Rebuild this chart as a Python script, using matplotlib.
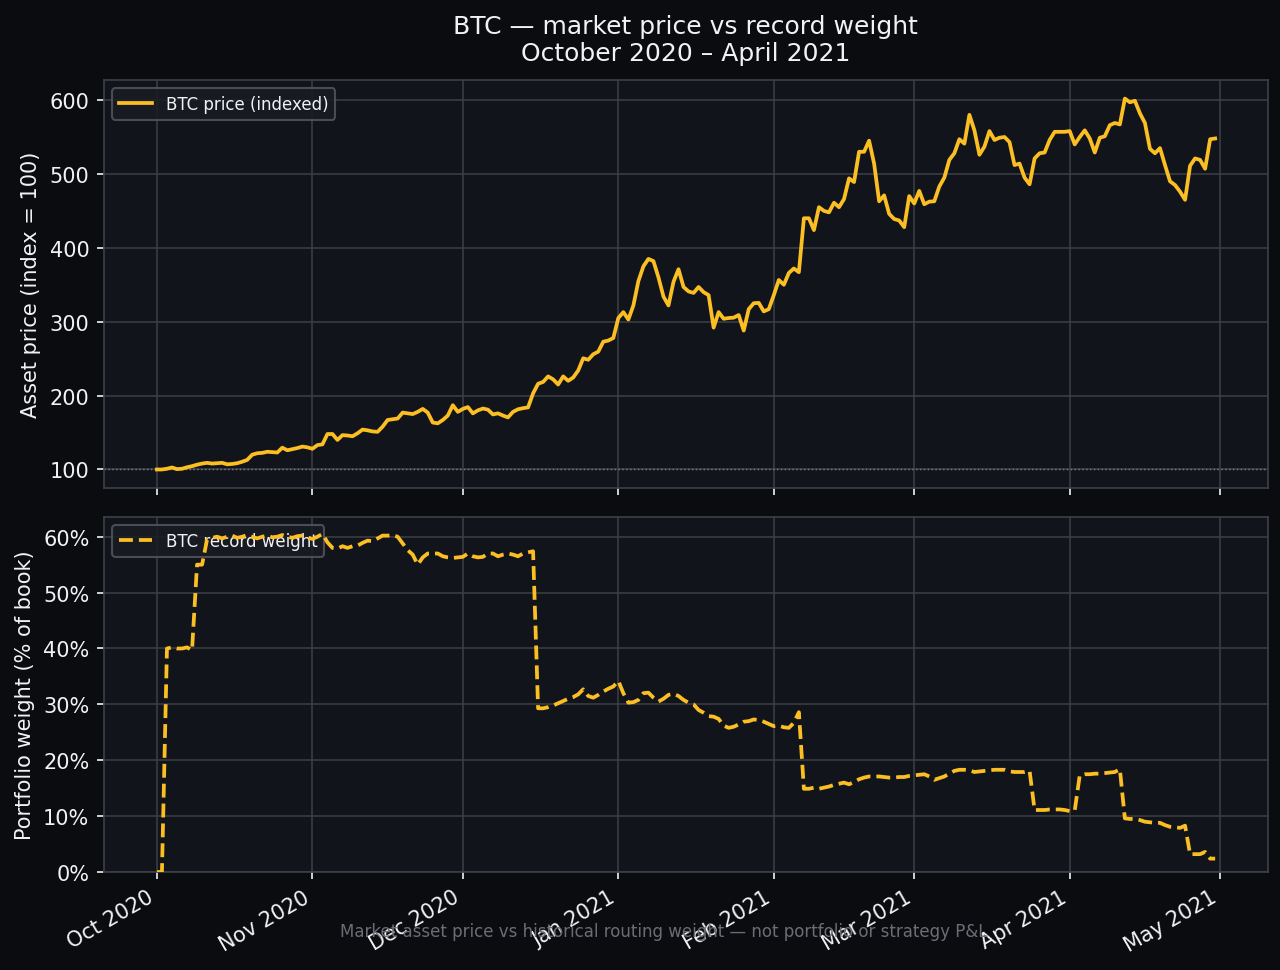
import numpy as np
import pandas as pd
import matplotlib
matplotlib.use("Agg")
import matplotlib.pyplot as plt
import matplotlib.dates as mdates
from matplotlib.ticker import PercentFormatter, MultipleLocator

# ---------------- data ----------------
start_date = "2020-10-01"

price_index = [
    100, 100, 101, 102.7, 100.5, 101, 103, 104.5, 106.5, 108,
    109, 108, 108.5, 109, 107, 107.5, 108.5, 110.5, 113, 120,
    122, 122.5, 124, 123.5, 123, 129.5, 126, 127.5, 129, 131,
    130, 128, 133, 134, 148, 148, 140, 146.5, 146, 145,
    149, 154, 153, 151.5, 151, 158, 167, 168, 169, 177,
    176, 175, 178, 182, 177, 163.5, 162.5, 167, 173, 187,
    178, 182, 184.5, 176, 180, 182.5, 181, 174.5, 176, 173,
    170.5, 178, 181.5, 183, 184, 203, 216, 218.5, 226, 222,
    215, 226, 220, 224.5, 234, 250.5, 248.5, 256, 259.5, 273,
    274.5, 278, 305, 313, 303, 322, 355, 375, 385, 382,
    360, 334, 322, 354, 371, 347, 341, 339, 347, 340,
    336, 292, 313, 304, 305, 305.5, 309, 288, 317, 325,
    325.5, 314, 317, 336, 356.5, 350, 366, 372, 367, 440,
    440, 424, 455, 450, 448, 461, 455, 466, 494, 489,
    530, 530, 545, 514, 463, 471, 446, 439, 437, 428,
    470, 460, 477, 459, 462.5, 463, 483, 495, 519, 528,
    547, 541, 580, 559, 526, 537, 558, 546, 549, 550,
    543, 512, 514, 495, 486, 521, 528, 529, 546, 557,
    557, 557, 558, 540, 550, 559, 548, 529, 549, 551,
    566, 569, 567, 602, 597, 599, 582, 569, 534, 528,
    535, 512, 490, 485, 476, 465, 511, 521, 519, 507,
    547, 548,
]

record_weight_pct = [
    0, 0, 40, 40.2, 40, 40, 40.2, 39.7, 55, 55,
    59.5, 59.8, 60, 59.7, 60, 60.2, 59.8, 60, 60.3, 60,
    59.7, 60, 60.2, 59.9, 60, 60.3, 60, 59.8, 60.1, 60.2,
    59.9, 59.6, 60, 60.5, 59, 58, 57.9, 58.3, 58, 58.3,
    58.4, 58.9, 59.3, 59.2, 59.7, 60.2, 60.2, 60.3, 60, 58.8,
    57.6, 56.8, 55, 56.3, 57, 57, 57, 56.5, 56.3, 56.2,
    56.3, 56.4, 57, 56.5, 56.3, 56.4, 57, 57, 56.5, 56.8,
    57, 56.8, 56.5, 57, 57.2, 57.4, 29.3, 29.3, 29.5, 29.8,
    30.2, 30.6, 31, 31.3, 31.8, 32.7, 31.5, 31.2, 31.7, 32.3,
    32.8, 33.2, 34.2, 32, 30.3, 30.4, 30.8, 32, 32.1, 31.2,
    30.5, 31, 31.7, 31.9, 31.5, 30.8, 30.3, 30, 29, 28.5,
    27.9, 27.8, 27.4, 26.2, 25.8, 26, 26.4, 26.9, 27, 27.3,
    27.2, 26.9, 26.5, 26.1, 26.2, 25.9, 25.8, 26.7, 28.6, 14.9,
    14.9, 15.1, 14.9, 15.1, 15.3, 15.6, 15.8, 16, 15.7, 16.1,
    16.6, 16.9, 17.1, 17.1, 17.1, 17, 16.9, 16.9, 17, 17,
    17.2, 17.3, 17.4, 17.5, 17.1, 16.5, 16.8, 17.1, 17.6, 18.1,
    18.3, 18.3, 18.2, 17.9, 18, 18.1, 18.2, 18.3, 18.3, 18.3,
    18, 17.9, 17.9, 17.9, 18.1, 11.1, 11.1, 11.1, 11.2, 11.2,
    11.2, 11.1, 10.9, 11.0, 17.3, 17.5, 17.5, 17.6, 17.6, 17.7,
    17.8, 17.9, 18.4, 9.6, 9.5, 9.5, 9.3, 9.0, 8.9, 8.8,
    8.8, 8.4, 8.1, 8.0, 7.9, 8.3, 3.2, 3.2, 3.2, 3.6,
    2.4, 2.4,
]

title_text = "BTC \u2014 market price vs record weight\nOctober 2020 \u2013 April 2021"
footer_text = "Market asset price vs historical routing weight \u2014 not portfolio or strategy P&L"
price_label = "BTC price (indexed)"
weight_label = "BTC record weight"
price_ylabel = "Asset price (index = 100)"
weight_ylabel = "Portfolio weight (% of book)"

dates = pd.date_range(start_date, periods=len(price_index), freq="D")

# ---------------- style ----------------
FIG_BG = "#0b0c10"
AX_BG = "#12141b"
LINE = "#fbbf24"
TXT = "#f2f2f4"
GRID = "#3c3e46"
SPINE = "#3e4048"

plt.rcParams["font.family"] = ["DejaVu Sans"]

fig = plt.figure(figsize=(8.54, 6.473), dpi=150, facecolor=FIG_BG)
gs = fig.add_gridspec(2, 1, height_ratios=[408, 355], hspace=0.076,
                      left=0.0812, right=0.9899, top=0.9166, bottom=0.1009)
ax1 = fig.add_subplot(gs[0])
ax2 = fig.add_subplot(gs[1], sharex=ax1)

for ax in (ax1, ax2):
    ax.set_facecolor(AX_BG)
    ax.grid(True, color=GRID, linewidth=0.8, alpha=0.95)
    ax.set_axisbelow(True)
    for s in ax.spines.values():
        s.set_color(SPINE)
        s.set_linewidth(0.8)
    ax.tick_params(colors=TXT, labelsize=10, length=3.5, width=0.8)

ax1.axhline(100, color="#8a8c94", linewidth=0.7, linestyle=":", alpha=0.8, zorder=1)
ax1.plot(dates, price_index, color=LINE, linewidth=1.8, label=price_label, zorder=3)
ax1.set_ylabel(price_ylabel, color=TXT, fontsize=10)
ax1.yaxis.set_major_locator(MultipleLocator(100))
ax1.tick_params(axis="x", labelbottom=False)

ax2.plot(dates, record_weight_pct, color=LINE, linewidth=1.8, linestyle="--",
         label=weight_label, zorder=3)
ax2.set_ylabel(weight_ylabel, color=TXT, fontsize=10)
ax2.set_ylim(0, max(record_weight_pct) * 1.05)
ax2.yaxis.set_major_locator(MultipleLocator(10))
ax2.yaxis.set_major_formatter(PercentFormatter(decimals=0))

ax2.xaxis.set_major_locator(mdates.MonthLocator())
ax2.xaxis.set_major_formatter(mdates.DateFormatter("%b %Y"))
for lab in ax2.get_xticklabels():
    lab.set_rotation(30)
    lab.set_ha("right")

for ax in (ax1, ax2):
    leg = ax.legend(loc="upper left", fontsize=8, facecolor="#1a1c23",
                    edgecolor="#55575f", framealpha=0.85)
    leg.set_zorder(2.5)
    for t in leg.get_texts():
        t.set_color(TXT)

fig.suptitle(title_text, color=TXT, fontsize=12, y=0.985, x=0.535)
fig.text(0.518, 0.04, footer_text, ha="center", va="center", color="#6b6d75", fontsize=8)

fig.savefig("out.png", dpi=150, facecolor=FIG_BG)
